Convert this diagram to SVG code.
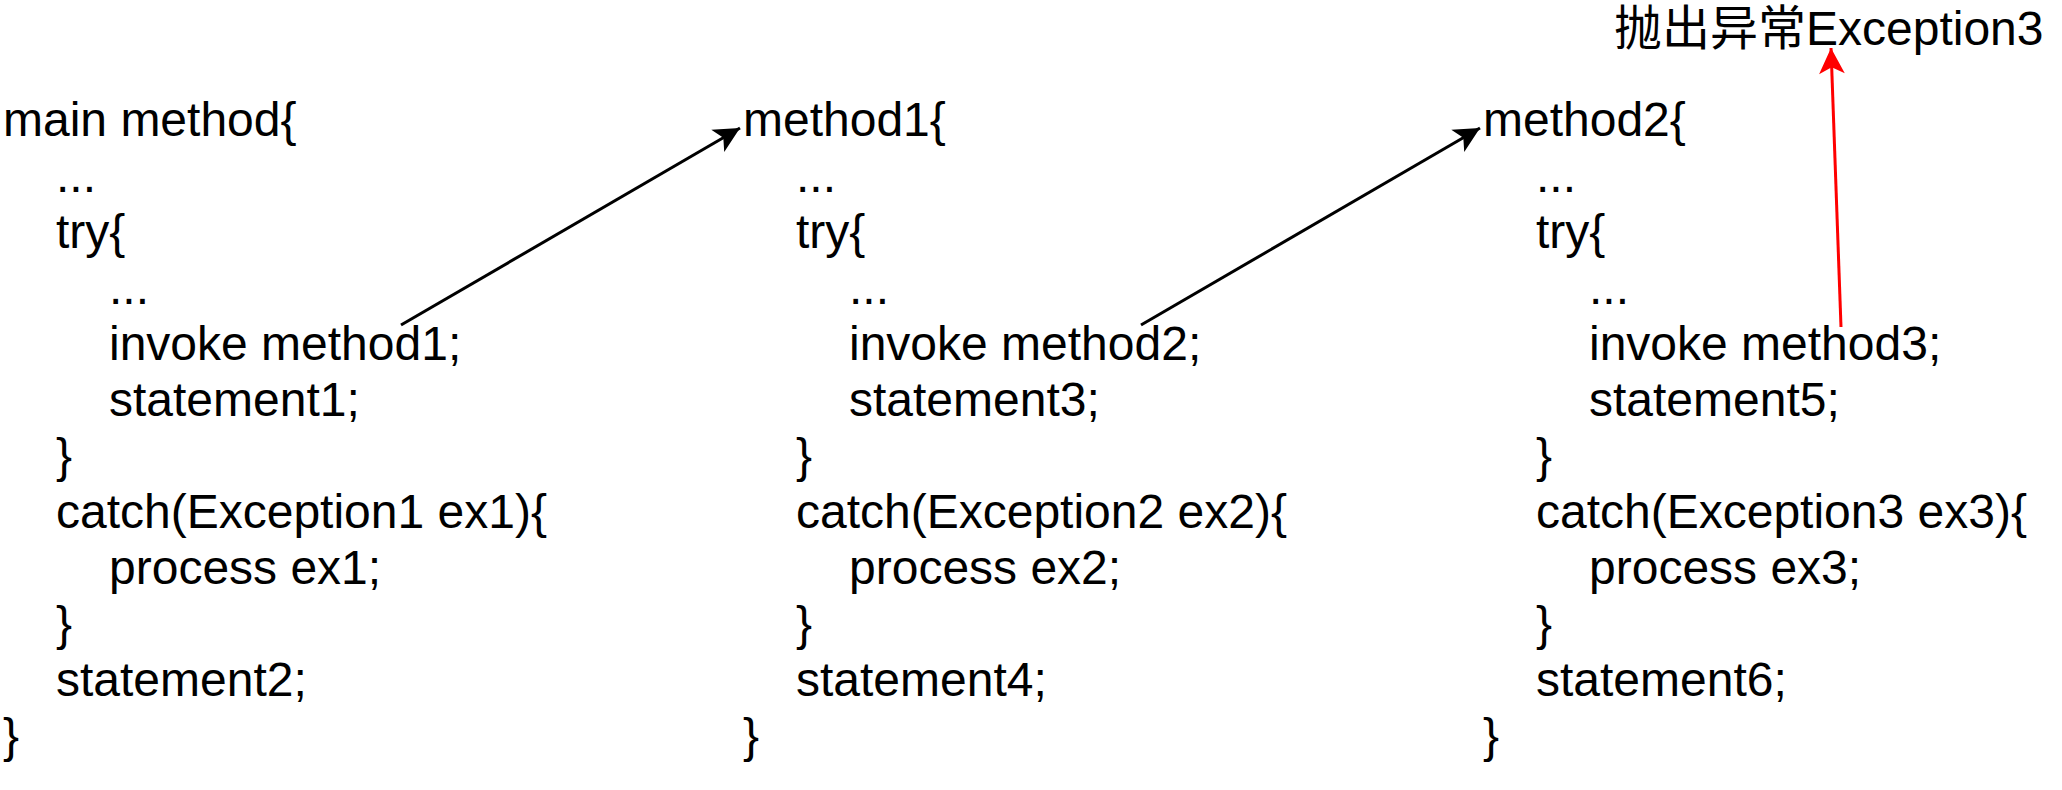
<svg xmlns="http://www.w3.org/2000/svg" width="2062" height="790" viewBox="0 0 2062 790">
<style>
text{font-family:"Liberation Sans","Noto Sans CJK SC",Arial,sans-serif;font-size:48px;fill:#000;}
.conn{fill:none;stroke-width:3;}
.blk{stroke:#000;}
.red{stroke:#ff0000;}
</style>
<defs>
<marker id="ab" markerUnits="userSpaceOnUse" markerWidth="30" markerHeight="30" viewBox="-26 -14 28 28" refX="0" refY="0" orient="auto">
<path d="M0,0 L-24,-12 L-18,0 L-24,12 Z" fill="#000"/>
</marker>
<marker id="ar" markerUnits="userSpaceOnUse" markerWidth="30" markerHeight="30" viewBox="-26 -14 28 28" refX="0" refY="0" orient="auto">
<path d="M0,0 L-24,-12 L-18,0 L-24,12 Z" fill="#ff0000"/>
</marker>
</defs>
<rect width="2062" height="790" fill="#fff"/>
<g id="main-method">
<text x="3" y="136">main method{</text>
<text x="56" y="192">...</text>
<text x="56" y="248">try{</text>
<text x="109" y="304">...</text>
<text x="109" y="360">invoke method1;</text>
<text x="109" y="416">statement1;</text>
<text x="56" y="472">}</text>
<text x="56" y="528">catch(Exception1 ex1){</text>
<text x="109" y="584">process ex1;</text>
<text x="56" y="640">}</text>
<text x="56" y="696">statement2;</text>
<text x="3" y="752">}</text>
</g>
<g id="method1">
<text x="743" y="136">method1{</text>
<text x="796" y="192">...</text>
<text x="796" y="248">try{</text>
<text x="849" y="304">...</text>
<text x="849" y="360">invoke method2;</text>
<text x="849" y="416">statement3;</text>
<text x="796" y="472">}</text>
<text x="796" y="528">catch(Exception2 ex2){</text>
<text x="849" y="584">process ex2;</text>
<text x="796" y="640">}</text>
<text x="796" y="696">statement4;</text>
<text x="743" y="752">}</text>
</g>
<g id="method2">
<text x="1483" y="136">method2{</text>
<text x="1536" y="192">...</text>
<text x="1536" y="248">try{</text>
<text x="1589" y="304">...</text>
<text x="1589" y="360">invoke method3;</text>
<text x="1589" y="416">statement5;</text>
<text x="1536" y="472">}</text>
<text x="1536" y="528">catch(Exception3 ex3){</text>
<text x="1589" y="584">process ex3;</text>
<text x="1536" y="640">}</text>
<text x="1536" y="696">statement6;</text>
<text x="1483" y="752">}</text>
</g>
<g id="exception-label">
<text x="1614" y="45">抛出异常Exception3</text>
</g>
<g id="connectors">
<line class="conn blk" x1="401" y1="325" x2="740" y2="128" marker-end="url(#ab)"/>
<line class="conn blk" x1="1141" y1="325" x2="1480" y2="128" marker-end="url(#ab)"/>
<line class="conn red" x1="1841" y1="327" x2="1831" y2="48" marker-end="url(#ar)"/>
</g>
</svg>
